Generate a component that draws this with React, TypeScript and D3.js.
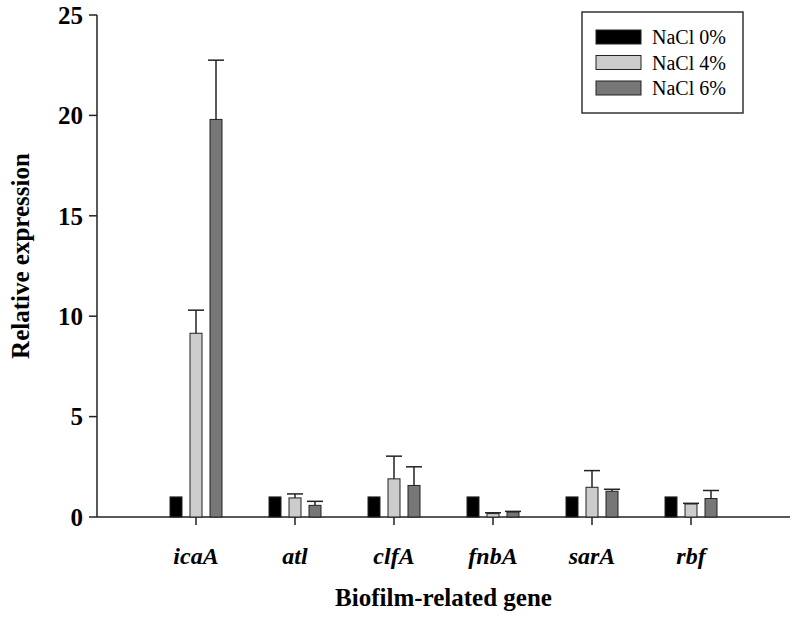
import React from 'react';
import * as d3 from 'd3';

// gene categories and the three NaCl series (mean + upper error)
const genes = ['icaA', 'atl', 'clfA', 'fnbA', 'sarA', 'rbf'];
const seriesNames = ['NaCl 0%', 'NaCl 4%', 'NaCl 6%'];
const nacl0 = [1, 1, 1, 1, 1, 1];
const nacl4 = [9.15, 0.95, 1.9, 0.17, 1.48, 0.65];
const nacl6 = [19.8, 0.58, 1.57, 0.25, 1.28, 0.92];
const err0 = [0, 0, 0, 0, 0, 0];
const err4 = [1.15, 0.2, 1.13, 0.04, 0.83, 0.03];
const err6 = [2.95, 0.2, 0.93, 0.03, 0.1, 0.4];
const yTicks = [0, 5, 10, 15, 20, 25];

const colors = ['#000000', '#cccccc', '#777777'];
const font = '"Liberation Serif", "Times New Roman", serif';

const App = () => {
  const width = 798;
  const height = 620;
  const left = 97;
  const right = 790;
  const top = 15;
  const bottom = 517;

  const values = [nacl0, nacl4, nacl6];
  const errors = [err0, err4, err6];

  const x = d3.scalePoint<string>().domain(genes).range([left, right]).padding(1);
  const y = d3.scaleLinear().domain([0, 25]).range([bottom, top]);

  const barW = 12;
  const offsets = [-20, 0, 20];
  const capW = 16;

  return (
    <svg width={width} height={height} style={{ position: 'absolute', left: 0, top: 0, background: '#fff' }}>
      {/* axes */}
      <line x1={left} y1={top} x2={left} y2={bottom} stroke="#222" strokeWidth={1.5} />
      <line x1={left} y1={bottom} x2={right} y2={bottom} stroke="#222" strokeWidth={1.5} />

      {yTicks.map((t) => (
        <g key={t}>
          <line x1={left - 8} x2={left} y1={y(t)} y2={y(t)} stroke="#222" strokeWidth={1.5} />
          <text x={left - 14} y={y(t)} dy="0.35em" textAnchor="end" fontFamily={font} fontWeight="bold" fontSize={25}>
            {t}
          </text>
        </g>
      ))}

      {genes.map((g) => (
        <g key={g}>
          <line x1={x(g)} x2={x(g)} y1={bottom} y2={bottom + 8} stroke="#222" strokeWidth={1.5} />
          <text x={x(g)} y={564} textAnchor="middle" fontFamily={font} fontWeight="bold" fontStyle="italic" fontSize={24}>
            {g}
          </text>
        </g>
      ))}

      {/* bars + error bars */}
      {values.map((vals, s) =>
        vals.map((v, i) => {
          const cx = (x(genes[i]) as number) + offsets[s];
          const e = errors[s][i];
          return (
            <g key={s + '-' + i}>
              <rect x={cx - barW / 2} y={y(v)} width={barW} height={bottom - y(v)} fill={colors[s]} stroke="#222" strokeWidth={1} />
              {e > 0 && (
                <g stroke="#222" strokeWidth={1.5}>
                  <line x1={cx} x2={cx} y1={y(v)} y2={y(v + e)} />
                  <line x1={cx - capW / 2} x2={cx + capW / 2} y1={y(v + e)} y2={y(v + e)} />
                </g>
              )}
            </g>
          );
        })
      )}

      {/* axis titles */}
      <text x={(left + right) / 2} y={606} textAnchor="middle" fontFamily={font} fontWeight="bold" fontSize={25}>
        Biofilm-related gene
      </text>
      <text transform={`translate(29, ${(top + bottom) / 2 - 10}) rotate(-90)`} textAnchor="middle" fontFamily={font} fontWeight="bold" fontSize={25}>
        Relative expression
      </text>

      {/* legend */}
      <rect x={582} y={12} width={161} height={101} fill="#fff" stroke="#333" strokeWidth={1.5} />
      {seriesNames.map((n, s) => (
        <g key={n} transform={`translate(596, ${37 + s * 25.5})`}>
          <rect x={0} y={-7} width={45} height={14} fill={colors[s]} stroke="#222" strokeWidth={1} />
          <text x={56} y={0} dy="0.35em" fontFamily={font} fontSize={20}>
            {n}
          </text>
        </g>
      ))}
    </svg>
  );
};

export default App;
